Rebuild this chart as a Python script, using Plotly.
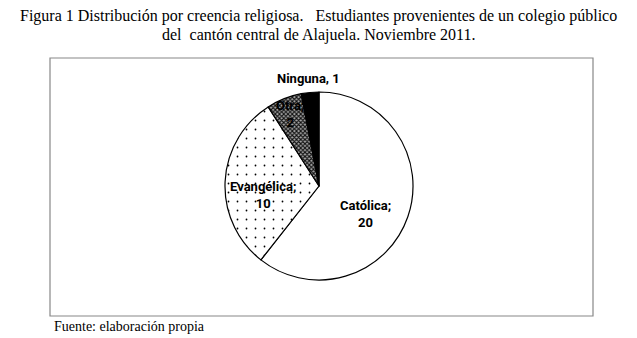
import math
import plotly.graph_objects as go

labels = ["Católica", "Evangélica", "Otra", "Ninguna"]
values = [20, 10, 2, 1]
label_formats = ["{l};<br>{v}", "{l};<br>{v}", "{l};<br>{v}", "{l}, {v}"]
fill_colors = ["white", "white", "#999999", "black"]
pattern_shapes = ["", ".", "x", ""]
# label placement (fraction of radius along slice mid-angle, vertical shift in px)
label_radius = [0.52, 0.60, 0.83, 1.15]
label_yshift = [-12, -12, 0, 0]

W, H = 637, 338
OFF = 8  # page body margin offset


def px(x):
    return (x - OFF) / W


def py(y):
    return 1 - (y - OFF) / H


cx, cy, r = 319, 186, 94

fig = go.Figure()
fig.add_trace(go.Pie(
    labels=labels,
    values=values,
    sort=False,
    direction="clockwise",
    rotation=0,
    textinfo="none",
    marker=dict(
        colors=fill_colors,
        line=dict(color="black", width=1.2),
        pattern=dict(shape=pattern_shapes, fgcolor=["black", "black", "#111111", "black"],
                     bgcolor=["white", "white", "#aaaaaa", "black"],
                     size=[10, 9, 3, 10], solidity=[0.3, 0.03, 0.6, 0.3]),
    ),
    domain=dict(x=[px(cx - r), px(cx + r)], y=[py(cy + r), py(cy - r)]),
    showlegend=False,
    hoverinfo="label+value",
))

annotations = []
total = sum(values)
cum = 0
for lab, val, fmt, f, ys in zip(labels, values, label_formats, label_radius, label_yshift):
    mid = (cum + val / 2) / total * 2 * math.pi
    cum += val
    lx = cx + r * f * math.sin(mid)
    ly = cy - r * f * math.cos(mid)
    annotations.append(dict(
        text=fmt.format(l=lab, v=val), xref="paper", yref="paper",
        x=px(lx), y=py(ly), xanchor="center", yanchor="middle", yshift=ys,
        showarrow=False, align="center",
        font=dict(family="Roboto, sans-serif", size=13, color="black", weight="bold"),
    ))

annotations += [
    dict(text="Figura 1 Distribución por creencia religiosa.   Estudiantes provenientes de un colegio público",
         xref="paper", yref="paper", x=px(318.5), y=py(16.5), xanchor="center", yanchor="middle",
         showarrow=False, font=dict(family="Liberation Serif", size=16, color="black")),
    dict(text="del  cantón central de Alajuela. Noviembre 2011.",
         xref="paper", yref="paper", x=px(318.5), y=py(34.5), xanchor="center", yanchor="middle",
         showarrow=False, font=dict(family="Liberation Serif", size=16, color="black")),
    dict(text="Fuente: elaboración propia",
         xref="paper", yref="paper", x=px(52), y=py(326), xanchor="left", yanchor="middle",
         showarrow=False, font=dict(family="Liberation Serif", size=14, color="black")),
]

fig.update_layout(
    width=W, height=H,
    margin=dict(l=0, r=0, t=0, b=0),
    paper_bgcolor="white",
    plot_bgcolor="white",
    shapes=[dict(type="rect", xref="paper", yref="paper",
                 x0=px(50), x1=px(593), y0=py(316), y1=py(58),
                 line=dict(color="#888888", width=1.2), fillcolor="rgba(0,0,0,0)")],
    annotations=annotations,
)

fig.write_html("out.html")
